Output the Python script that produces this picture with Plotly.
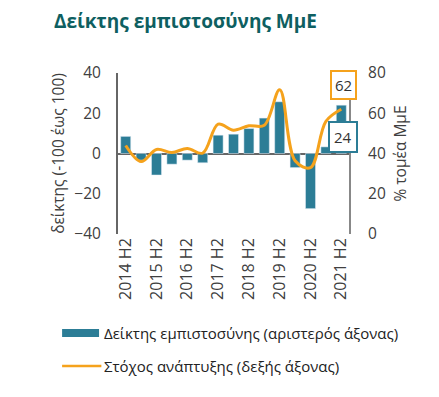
import plotly.graph_objects as go

categories = ["2014 H2", "2015 H1", "2015 H2", "2016 H1", "2016 H2", "2017 H1", "2017 H2",
              "2018 H1", "2018 H2", "2019 H1", "2019 H2", "2020 H1", "2020 H2", "2021 H1", "2021 H2"]
confidence = [8.5, -3.3, -10.7, -5.3, -3.3, -4.6, 9.1, 9.6, 12.4, 17.6, 25.7, -7, -27.4, 3.3, 24]
growth_target = [44, 36, 42, 40.5, 42.5, 40.2, 54.6, 51.6, 53.8, 54, 71.7, 36.4, 33, 56, 62]
tick_labels = ["2014 H2", "2015 H2", "2016 H2", "2017 H2", "2018 H2", "2019 H2", "2020 H2", "2021 H2"]

TEAL = "#2c7d96"
ORANGE = "#f5a21c"
FONT = "Open Sans"

fig = go.Figure()
fig.add_trace(go.Bar(x=categories, y=confidence, marker_color=TEAL, name="Δείκτης εμπιστοσύνης (αριστερός άξονας)",
                     showlegend=False))
fig.add_trace(go.Scatter(x=categories, y=growth_target, yaxis="y2", mode="lines",
                         line=dict(color=ORANGE, width=3, shape="spline", smoothing=1),
                         name="Στόχος ανάπτυξης (δεξής άξονας)", showlegend=False))

fig.add_annotation(x=categories[-1], y=growth_target[-1], yref="y2", text=str(growth_target[-1]),
                   showarrow=False, yshift=24, xshift=2, bgcolor="white", bordercolor=ORANGE,
                   borderwidth=2, borderpad=3, font=dict(family=FONT, size=15, color="#333"))
fig.add_annotation(x=categories[-1], y=confidence[-1], yref="y", text=str(int(confidence[-1])),
                   showarrow=False, yshift=-32, xshift=2, bgcolor="white", bordercolor=TEAL,
                   borderwidth=2, borderpad=4, font=dict(family=FONT, size=15, color="#333"))

# manual legend
fig.add_shape(type="rect", xref="paper", yref="paper", x0=-0.242, x1=-0.082, y0=-0.64, y1=-0.59,
              fillcolor=TEAL, line_width=0)
fig.add_shape(type="line", xref="paper", yref="paper", x0=-0.242, x1=-0.072, y0=-0.82, y1=-0.82,
              line=dict(color=ORANGE, width=2.5))
fig.add_annotation(xref="paper", yref="paper", x=-0.068, y=-0.615, xanchor="left", yanchor="middle",
                   text="Δείκτης εμπιστοσύνης (αριστερός άξονας)", showarrow=False,
                   font=dict(family=FONT, size=15, color="#222"))
fig.add_annotation(xref="paper", yref="paper", x=-0.068, y=-0.82, xanchor="left", yanchor="middle",
                   text="Στόχος ανάπτυξης (δεξής άξονας)", showarrow=False,
                   font=dict(family=FONT, size=15, color="#222"))

fig.update_layout(
    width=439, height=397,
    margin=dict(l=118, r=90, t=73, b=163, autoexpand=False),
    paper_bgcolor="white", plot_bgcolor="white",
    bargap=0.35,
    title=dict(text="<b>Δείκτης εμπιστοσύνης ΜμΕ</b>", x=54/439, xanchor="left", xref="container",
               y=1 - 21/397, yref="container", yanchor="middle", automargin=False,
               font=dict(family=FONT, size=19, color="#0e5f61")),
    font=dict(family=FONT, color="#404040"),
    xaxis=dict(type="category", categoryorder="array", categoryarray=categories,
               range=[-0.5, len(categories) - 0.5],
               tickmode="array", tickvals=tick_labels, ticktext=tick_labels, tickangle=-90,
               tickfont=dict(size=16, color="#404040"), showline=False, showgrid=False, ticks="",
               automargin=False),
    yaxis=dict(range=[-40, 40], dtick=20, showgrid=False, zeroline=True, zerolinecolor="#666",
               zerolinewidth=2, showline=True, linecolor="#666", linewidth=2, ticks="",
               ticklabelstandoff=12, tickfont=dict(size=15.5, color="#404040"), automargin=False,
               title=dict(text="δείκτης (-100 έως 100)", font=dict(size=15.5, color="#404040"), standoff=6)),
    yaxis2=dict(range=[0, 80], dtick=20, overlaying="y", side="right", showgrid=False, zeroline=False,
                showline=True, linecolor="#888", linewidth=2, ticks="", ticklabelstandoff=14,
                tickfont=dict(size=15.5, color="#404040"), automargin=False,
                title=dict(text="% τομέα ΜμΕ", font=dict(size=15.5, color="#404040"), standoff=10)),
)

fig.write_html("out.html", config={"displayModeBar": False},
               post_script="document.body.style.margin='0';")
